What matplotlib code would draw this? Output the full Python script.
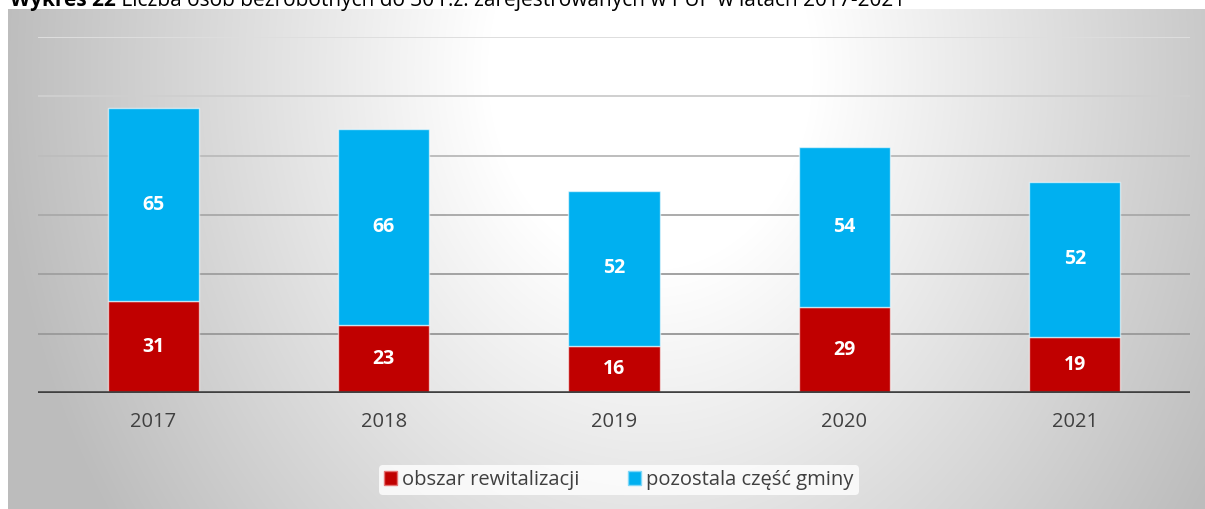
import numpy as np
import matplotlib
matplotlib.use("Agg")
import matplotlib.pyplot as plt
from matplotlib.patches import Patch

# data
years = ['2017', '2018', '2019', '2020', '2021']
obszar = [31, 23, 16, 29, 19]
pozostala = [65, 66, 52, 54, 52]
series_names = ['obszar rewitalizacji', 'pozostala część gminy']
title_bold = 'Wykres 22'
title_rest = ' Liczba osób bezrobotnych do 30 r.ż. zarejestrowanych w PUP w latach 2017-2021'

RED = '#C00000'
BLUE = '#00B0F0'
W, H = 1205, 509

plt.rcParams['font.family'] = ['Open Sans', 'DejaVu Sans']

fig = plt.figure(figsize=(W / 100, H / 100), dpi=100)

# chart area background with radial gradient
bg = fig.add_axes([8 / W, 0, 1 - 8 / W, (H - 9) / H])
xx, yy = np.meshgrid(np.arange(8, W), np.arange(9, H))
d = np.sqrt(((xx - 650) / 650.0) ** 2 + ((yy - 70) / 800.0) ** 2)
v = 1 - 0.26 * np.clip((d - 0.25) / 0.75, 0, 1)
bg.imshow(np.dstack([v, v, v]), aspect='auto', interpolation='bilinear')
bg.set_axis_off()

# plot area
ax = fig.add_axes([38 / W, (H - 393) / H, (1190 - 38) / W, (393 - 37) / H])
ax.patch.set_alpha(0)
x = np.arange(len(years))
grid_cols = {20: '#9C9C9C', 40: '#A2A2A2', 60: '#ABABAB', 80: '#BDBDBD', 100: '#CFCFCF', 120: '#DEDEDE'}
for gy, gc in grid_cols.items():
    ax.axhline(gy, color=gc, lw=1.4, zorder=1)

ax.bar(x, obszar, width=0.395, color=RED, edgecolor=(1, 1, 1, 0.6), lw=1, zorder=3)
ax.bar(x, pozostala, width=0.395, bottom=obszar, color=BLUE, edgecolor=(1, 1, 1, 0.6), lw=1, zorder=3)

for i in range(len(years)):
    ax.text(x[i], obszar[i] / 2, str(obszar[i]), ha='center', va='center',
            color='white', fontsize=14, fontweight='bold', zorder=4)
    ax.text(x[i], obszar[i] + pozostala[i] / 2, str(pozostala[i]), ha='center', va='center',
            color='white', fontsize=14, fontweight='bold', zorder=4)

ax.axhline(0, color='#404040', lw=2.6, zorder=5)
ax.set_xlim(-0.5, len(years) - 0.5)
ax.set_ylim(0, 120)
ax.set_xticks(x)
ax.set_xticklabels(years, fontsize=14.5, color='#404040')
ax.tick_params(axis='x', length=0, pad=14)
ax.set_yticks([])
for s in ax.spines.values():
    s.set_visible(False)

handles = [Patch(facecolor=RED, edgecolor='#E57373', lw=1),
           Patch(facecolor=BLUE, edgecolor='#7FD7F7', lw=1)]
leg = fig.legend(handles, series_names, loc='center', bbox_to_anchor=(619 / W, 1 - 480 / H),
                 ncol=2, frameon=True, fontsize=14.5, handlelength=0.65, handleheight=0.65,
                 handletextpad=0.25, columnspacing=2.4, borderpad=0.25)
leg.get_frame().set_facecolor((1, 1, 1, 0.2))
leg.get_frame().set_edgecolor('none')
for t in leg.get_texts():
    t.set_color('#404040')

# title, cut at the top edge as in the source
t1 = fig.text(10 / W, 1 - 6 / H, title_bold, fontsize=15, fontweight='bold', va='baseline', ha='left')
fig.canvas.draw()
bb = t1.get_window_extent()
fig.text(bb.x1 / W, 1 - 6 / H, title_rest, fontsize=15, va='baseline', ha='left')

fig.savefig('out.png', dpi=100)
